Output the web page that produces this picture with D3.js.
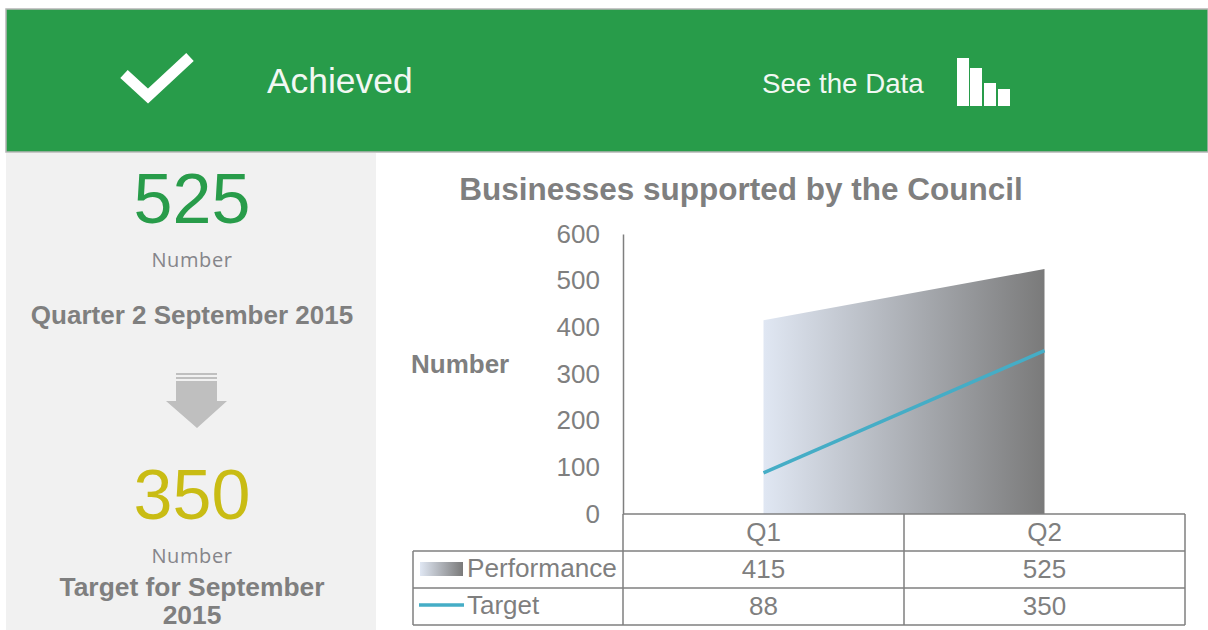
<!DOCTYPE html>
<html>
<head>
<meta charset="utf-8">
<title>Businesses supported by the Council</title>
<style>
html, body { margin:0; padding:0; background:#fff; overflow:hidden; }
text { font-family:'Liberation Sans', Arial, sans-serif; fill:#7f7f7f; }
.tick text { font-size:26px; }
.cell { font-size:26px; text-anchor:middle; }
.grid { stroke:#7f7f7f; stroke-width:1.5px; fill:none; }
</style>
<script src="https://d3js.org/d3.v7.min.js"></script>
</head>
<body>
<svg width="1208" height="630"></svg>
<script>

var categories = ["Q1", "Q2"],
    performance = [415, 525],
    target = [88, 350],
    yTicks = [0, 100, 200, 300, 400, 500, 600];

var svg = d3.select("svg");

var x = d3.scaleBand().domain(categories).range([623, 1185]),
    y = d3.scaleLinear().domain([0, 600]).range([514, 234]);

function cx(c) { return x(c) + x.bandwidth() / 2; }

var defs = svg.append("defs");

function fade(id) {
  var g = defs.append("linearGradient").attr("id", id);
  g.append("stop").attr("offset", "0%").attr("stop-color", "#e0e7f3");
  g.append("stop").attr("offset", "100%").attr("stop-color", "#7a7a7a");
}
fade("perfFill");
fade("legendFill");

// header band
svg.append("rect").attr("x", 6).attr("y", 9).attr("width", 1202).attr("height", 143)
    .attr("fill", "#289c4a").attr("stroke", "#b5b5b5").attr("stroke-width", 1.5);

svg.append("path")
    .attr("d", "M124,74L148,96L190,57")
    .attr("fill", "none").attr("stroke", "#fff").attr("stroke-width", 11);

svg.append("text").attr("x", 267).attr("y", 93)
    .style("font-size", "35.4px").style("fill", "#f2f8f3").text("Achieved");

svg.append("text").attr("x", 762).attr("y", 93)
    .style("font-size", "27.7px").style("fill", "#f2f8f3").text("See the Data");

svg.append("g").selectAll("rect")
    .data([[957, 58], [970, 68], [984, 83], [998, 89]])
    .enter().append("rect")
      .attr("x", function(d) { return d[0]; })
      .attr("y", function(d) { return d[1]; })
      .attr("width", 12)
      .attr("height", function(d) { return 106 - d[1]; })
      .attr("fill", "#fff");

// left panel
svg.append("rect").attr("x", 6).attr("y", 153).attr("width", 370).attr("height", 477).attr("fill", "#f1f1f1");

function centred(px, py, size, txt, colour, bold, family) {
  svg.append("text").attr("x", px).attr("y", py)
      .attr("text-anchor", "middle")
      .style("font-size", size + "px")
      .style("font-weight", bold ? "bold" : "normal")
      .style("font-family", family || null)
      .style("letter-spacing", family ? "0.6px" : null)
      .style("fill", colour)
      .text(txt);
}

centred(192, 223, 70, "525", "#289c4a");
centred(192, 267, 20, "Number", "#85858a", false, "'Open Sans'");
centred(192, 324, 26, "Quarter 2 September 2015", "#7f7f7f", true);
centred(192, 519, 70, "350", "#c9bc14");
centred(192, 563, 20, "Number", "#85858a", false, "'Open Sans'");
centred(192, 596, 26.4, "Target for September", "#7f7f7f", true);
centred(192, 624, 26.4, "2015", "#7f7f7f", true);

// down arrow
svg.append("path")
    .attr("d", "M176,385H217V401H227L197,428L166,401H176Z")
    .attr("fill", "#bfbfbf");
svg.append("g").selectAll("rect")
    .data([373, 377, 381])
    .enter().append("rect")
      .attr("x", 176).attr("y", function(d) { return d; })
      .attr("width", 41).attr("height", function(d, i) { return i == 2 ? 5 : 2; })
      .attr("fill", "#bfbfbf");

// chart
svg.append("text").attr("x", 741).attr("y", 200)
    .attr("text-anchor", "middle")
    .style("font-size", "31.5px").style("font-weight", "bold")
    .text("Businesses supported by the Council");

svg.append("text").attr("x", 411).attr("y", 373)
    .style("font-size", "26px").style("font-weight", "bold")
    .text("Number");

var area = d3.area()
    .x(function(d) { return cx(d.c); })
    .y0(y(0))
    .y1(function(d) { return y(d.v); });

svg.append("path")
    .datum(categories.map(function(c, i) { return {c: c, v: performance[i]}; }))
    .attr("d", area)
    .attr("fill", "url(#perfFill)");

var line = d3.line()
    .x(function(d) { return cx(d.c); })
    .y(function(d) { return y(d.v); });

svg.append("path")
    .datum(categories.map(function(c, i) { return {c: c, v: target[i]}; }))
    .attr("d", line)
    .attr("fill", "none")
    .attr("stroke", "#45adc6")
    .attr("stroke-width", 3.5);

var axis = svg.append("g")
    .attr("transform", "translate(623,0)")
    .call(d3.axisLeft(y).tickValues(yTicks).tickSize(0).tickPadding(23));
axis.select(".domain").attr("stroke", "#7f7f7f").attr("stroke-width", 1.5);
axis.selectAll("text").style("font-family", "'Liberation Sans', Arial, sans-serif").style("fill", "#7f7f7f").attr("dy", "0.32em");

// data table
var rowY = [514, 551, 588, 625],
    tableLeft = 413;

rowY.forEach(function(ry, i) {
  svg.append("line").attr("class", "grid")
      .attr("x1", i == 0 ? 623 : tableLeft).attr("x2", 1185)
      .attr("y1", ry).attr("y2", ry);
});
[623, 904, 1185].forEach(function(vx) {
  svg.append("line").attr("class", "grid")
      .attr("x1", vx).attr("x2", vx)
      .attr("y1", 514).attr("y2", 625);
});
svg.append("line").attr("class", "grid")
    .attr("x1", tableLeft).attr("x2", tableLeft)
    .attr("y1", 551).attr("y2", 625);

categories.forEach(function(c, i) {
  svg.append("text").attr("class", "cell").attr("x", cx(c)).attr("y", 541).text(c);
  svg.append("text").attr("class", "cell").attr("x", cx(c)).attr("y", 578).text(performance[i]);
  svg.append("text").attr("class", "cell").attr("x", cx(c)).attr("y", 615).text(target[i]);
});

svg.append("rect").attr("x", 420).attr("y", 562).attr("width", 43).attr("height", 14).attr("fill", "url(#legendFill)");
svg.append("text").attr("x", 467).attr("y", 577).style("font-size", "26.2px").text("Performance");
svg.append("line").attr("x1", 419).attr("x2", 464).attr("y1", 605).attr("y2", 605)
    .attr("stroke", "#45adc6").attr("stroke-width", 3.5);
svg.append("text").attr("x", 467).attr("y", 614).style("font-size", "26px").text("Target");

</script>
</body>
</html>
